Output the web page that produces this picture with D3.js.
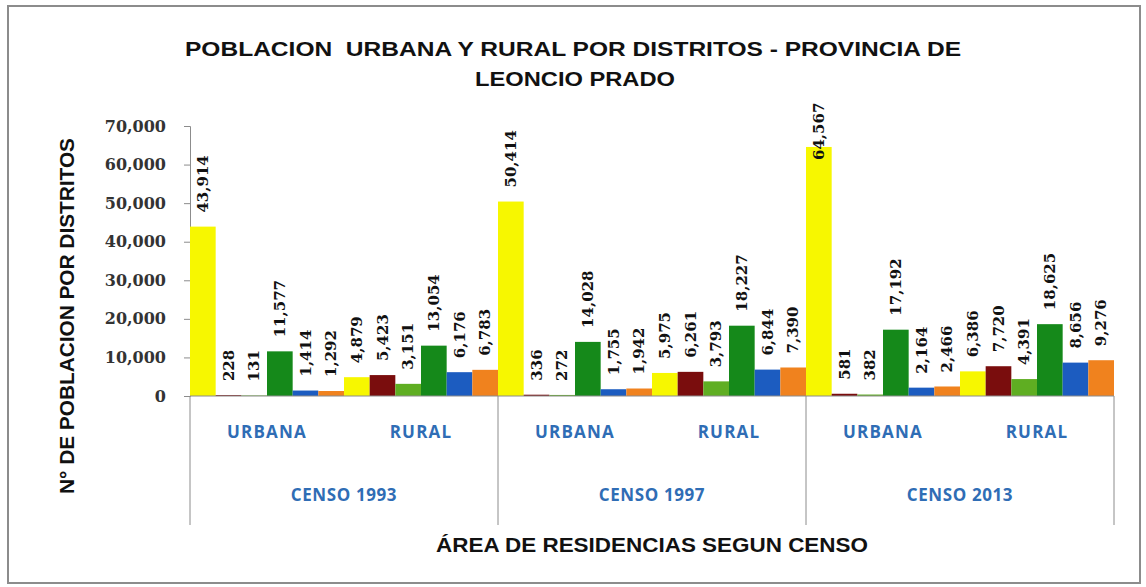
<!DOCTYPE html>
<html>
  <head>
    <meta charset="utf-8">
    <title>Poblacion urbana y rural - Leoncio Prado</title>
    <style>
      body { margin: 0; background: #fff; }
      svg text { white-space: pre; }
    </style>
  </head>
  <body>
    <script src="https://cdn.jsdelivr.net/npm/d3@7/dist/d3.min.js"></script>
    <script>
      // datos
      var censos = ["CENSO 1993", "CENSO 1997", "CENSO 2013"];
      var areas = ["URBANA", "RURAL"];
      var distritos = ["Distrito 1", "Distrito 2", "Distrito 3", "Distrito 4", "Distrito 5", "Distrito 6"];

      var urbana1993 = [43914, 228, 131, 11577, 1414, 1292];
      var rural1993 = [4879, 5423, 3151, 13054, 6176, 6783];
      var urbana1997 = [50414, 336, 272, 14028, 1755, 1942];
      var rural1997 = [5975, 6261, 3793, 18227, 6844, 7390];
      var urbana2013 = [64567, 581, 382, 17192, 2164, 2466];
      var rural2013 = [6386, 7720, 4391, 18625, 8656, 9276];

      var yTicks = [0, 10000, 20000, 30000, 40000, 50000, 60000, 70000];

      var colores = ["#f7f700", "#7a0d0d", "#5fae22", "#15891a", "#1c5cc0", "#f0821e"];

      var valores = {
        "CENSO 1993": { "URBANA": urbana1993, "RURAL": rural1993 },
        "CENSO 1997": { "URBANA": urbana1997, "RURAL": rural1997 },
        "CENSO 2013": { "URBANA": urbana2013, "RURAL": rural2013 }
      };

      // tabla plana para las barras
      var filas = [];
      censos.forEach(function(c) {
        areas.forEach(function(a) {
          valores[c][a].forEach(function(v, i) {
            filas.push({ censo: c, area: a, distrito: distritos[i], valor: v });
          });
        });
      });

      var width = 1146, height = 587;
      var svg = d3.select("body").append("svg")
        .attr("width", width)
        .attr("height", height);

      // marco del grafico
      svg.append("rect")
        .attr("x", 8).attr("y", 6)
        .attr("width", 1132).attr("height", 577)
        .attr("fill", "#fff")
        .attr("stroke", "#8c8c8c")
        .attr("stroke-width", 2);

      var x0 = d3.scaleBand().domain(censos).range([190, 1114]);
      var x1 = d3.scaleBand().domain(areas).range([0, x0.bandwidth()]);
      var x2 = d3.scaleBand().domain(distritos).range([0, x1.bandwidth()]);
      var y = d3.scaleLinear().domain([0, 70000]).range([396, 126]);
      var color = d3.scaleOrdinal().domain(distritos).range(colores);

      // titulo
      var titulo = svg.append("text")
        .attr("text-anchor", "middle")
        .style("font-family", "'Liberation Sans', Arial, sans-serif")
        .style("font-weight", "bold")
        .style("font-size", "21px")
        .style("fill", "#111");
      titulo.append("tspan").attr("x", 573).attr("y", 56)
        .attr("textLength", 776).attr("lengthAdjust", "spacingAndGlyphs")
        .text("POBLACION  URBANA Y RURAL POR DISTRITOS - PROVINCIA DE");
      titulo.append("tspan").attr("x", 575).attr("y", 86)
        .attr("textLength", 200).attr("lengthAdjust", "spacingAndGlyphs")
        .text("LEONCIO PRADO");

      // eje Y
      var yAxis = svg.append("g")
        .attr("transform", "translate(190,0)")
        .call(d3.axisLeft(y).tickValues(yTicks).tickFormat(d3.format(",")).tickSize(6).tickPadding(18));
      yAxis.select(".domain").attr("stroke", "#8c8c8c");
      yAxis.selectAll(".tick line").attr("stroke", "#8c8c8c");
      yAxis.selectAll(".tick text")
        .style("font-family", "'DejaVu Serif', serif")
        .style("font-weight", "bold")
        .style("font-size", "16px")
        .style("fill", "#333");

      // barras
      svg.append("g")
        .selectAll("rect")
        .data(filas)
        .enter()
        .append("rect")
        .attr("x", d => x0(d.censo) + x1(d.area) + x2(d.distrito))
        .attr("y", d => y(d.valor))
        .attr("width", x2.bandwidth())
        .attr("height", d => y(0) - y(d.valor))
        .attr("fill", d => color(d.distrito));

      // etiquetas de valores (se recortan al borde superior como en Excel)
      svg.append("g")
        .selectAll("text")
        .data(filas)
        .enter()
        .append("text")
        .attr("transform", function(d) {
          var cx = x0(d.censo) + x1(d.area) + x2(d.distrito) + x2.bandwidth() / 2;
          var cy = Math.max(y(d.valor) - 14, 160);
          return "translate(" + cx + "," + cy + ") rotate(-90)";
        })
        .attr("dominant-baseline", "central")
        .text(d => d3.format(",")(d.valor))
        .style("font-family", "'DejaVu Serif', serif")
        .style("font-weight", "bold")
        .style("font-size", "15px")
        .style("fill", "#111");

      // linea base y separadores de categorias
      svg.append("line")
        .attr("x1", x0.range()[0]).attr("x2", x0.range()[1])
        .attr("y1", y(0)).attr("y2", y(0))
        .attr("stroke", "#8c8c8c");

      var cortes = censos.map(c => x0(c)).concat([x0.range()[1]]);
      svg.append("g")
        .selectAll("line")
        .data(cortes)
        .enter()
        .append("line")
        .attr("x1", d => d).attr("x2", d => d)
        .attr("y1", y(0)).attr("y2", 525)
        .attr("stroke", "#8c8c8c");

      // etiquetas de area
      var etiquetasArea = [];
      censos.forEach(c => areas.forEach(a => etiquetasArea.push({ censo: c, area: a })));
      svg.append("g")
        .selectAll("text")
        .data(etiquetasArea)
        .enter()
        .append("text")
        .attr("x", d => x0(d.censo) + x1(d.area) + x1.bandwidth() / 2)
        .attr("y", 438)
        .attr("text-anchor", "middle")
        .text(d => d.area)
        .style("font-family", "'Open Sans', sans-serif")
        .style("font-weight", "bold")
        .style("font-size", "17px")
        .style("letter-spacing", "1.2px")
        .style("fill", "#2f6db5");

      // etiquetas de censo
      svg.append("g")
        .selectAll("text")
        .data(censos)
        .enter()
        .append("text")
        .attr("x", d => x0(d) + x0.bandwidth() / 2)
        .attr("y", 501)
        .attr("text-anchor", "middle")
        .text(d => d)
        .style("font-family", "'Open Sans', sans-serif")
        .style("font-weight", "bold")
        .style("font-size", "17px")
        .style("letter-spacing", "0.6px")
        .style("fill", "#2f6db5");

      // titulo eje X
      svg.append("text")
        .attr("x", 652).attr("y", 552)
        .attr("text-anchor", "middle")
        .attr("textLength", 432).attr("lengthAdjust", "spacingAndGlyphs")
        .text("ÁREA DE RESIDENCIAS SEGUN CENSO")
        .style("font-family", "'Liberation Sans', Arial, sans-serif")
        .style("font-weight", "bold")
        .style("font-size", "21px")
        .style("fill", "#111");

      // titulo eje Y
      svg.append("text")
        .attr("transform", "translate(74,316) rotate(-90)")
        .attr("text-anchor", "middle")
        .attr("textLength", 356).attr("lengthAdjust", "spacingAndGlyphs")
        .text("N° DE POBLACION POR DISTRITOS")
        .style("font-family", "'Liberation Sans', Arial, sans-serif")
        .style("font-weight", "bold")
        .style("font-size", "20px")
        .style("fill", "#111");
    </script>
  </body>
</html>
